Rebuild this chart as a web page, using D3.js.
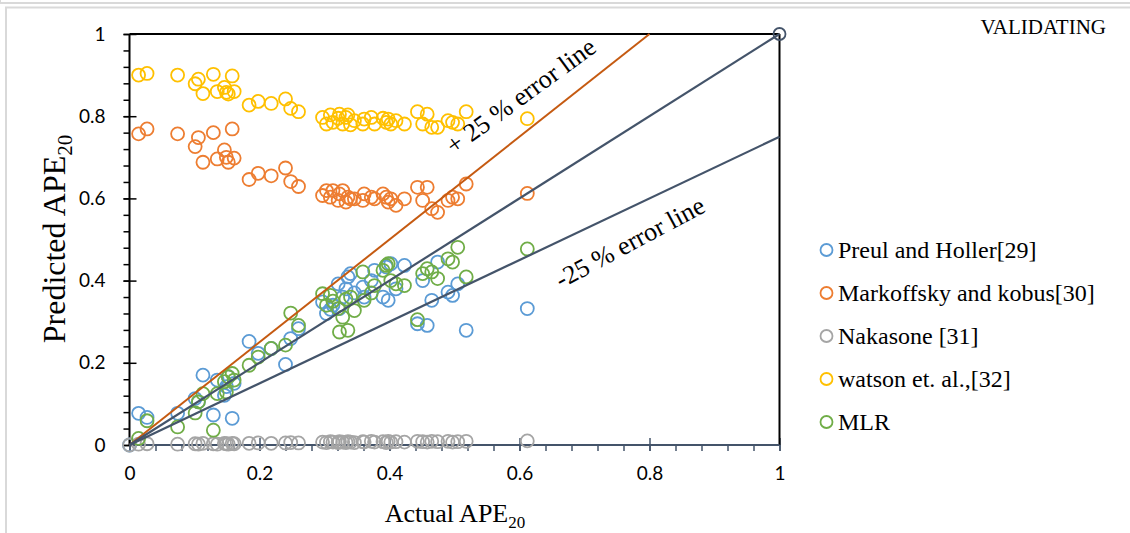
<!DOCTYPE html>
<html><head><meta charset="utf-8">
<script src="https://cdn.jsdelivr.net/npm/d3@7"></script>
<style>html,body{margin:0;padding:0;background:#fff;}svg{display:block;}</style>
</head><body>
<svg id="chart" width="1130" height="533"></svg>
<script>
// ---------------- DATA ----------------
const seriesNames = ["Preul and Holler[29]", "Markoffsky and kobus[30]", "Nakasone [31]", "watson et. al.,[32]", "MLR"];
const seriesColors = ["#5B9BD5", "#ED7D31", "#A5A5A5", "#FFC000", "#70AD47"];

const xActual = [0.000, 0.014, 0.027, 0.074, 0.101, 0.106, 0.113, 0.129, 0.135, 0.146,
  0.149, 0.152, 0.158, 0.161, 0.184, 0.198, 0.218, 0.240, 0.248, 0.260,
  0.297, 0.303, 0.309, 0.313, 0.321, 0.323, 0.328, 0.333, 0.336, 0.340,
  0.346, 0.359, 0.361, 0.372, 0.377, 0.390, 0.395, 0.398, 0.402, 0.410,
  0.423, 0.443, 0.451, 0.458, 0.465, 0.474, 0.490, 0.497, 0.505, 0.518,
  0.612];

const preul = [0, 0.077, 0.067, 0.077, 0.113, 0.105, 0.170, 0.073, 0.158, 0.121,
  0.142, 0.166, 0.065, 0.150, 0.252, 0.223, 0.235, 0.196, 0.259, 0.283,
  0.348, 0.320, 0.330, 0.340, 0.392, 0.332, 0.360, 0.380, 0.409, 0.417,
  0.370, 0.384, 0.360, 0.400, 0.425, 0.360, 0.433, 0.352, 0.441, 0.380,
  0.437, 0.295, 0.400, 0.291, 0.352, 0.445, 0.372, 0.364, 0.392, 0.279,
  0.332];

const markoffsky = [null, 0.757, 0.769, 0.757, 0.726, 0.748, 0.688, 0.760, 0.696, 0.718,
  0.700, 0.688, 0.769, 0.698, 0.646, 0.661, 0.655, 0.674, 0.641, 0.629,
  0.607, 0.619, 0.603, 0.619, 0.595, 0.611, 0.619, 0.591, 0.603, 0.599,
  0.599, 0.595, 0.611, 0.603, 0.599, 0.611, 0.603, 0.591, 0.599, 0.583,
  0.599, 0.627, 0.595, 0.627, 0.575, 0.566, 0.595, 0.603, 0.599, 0.635,
  0.612];

const nakasone = [0, 0.002, 0.003, 0.002, 0.003, 0.002, 0.004, 0.003, 0.002, 0.004,
  0.003, 0.002, 0.004, 0.003, 0.004, 0.005, 0.004, 0.005, 0.006, 0.005,
  0.007, 0.006, 0.008, 0.007, 0.006, 0.008, 0.007, 0.006, 0.008, 0.007,
  0.006, 0.008, 0.007, 0.009, 0.007, 0.008, 0.006, 0.009, 0.007, 0.008,
  0.007, 0.009, 0.008, 0.007, 0.009, 0.008, 0.009, 0.007, 0.008, 0.009,
  0.010];

const watson = [null, 0.900, 0.904, 0.900, 0.879, 0.890, 0.855, 0.902, 0.860, 0.870,
  0.858, 0.854, 0.898, 0.860, 0.827, 0.836, 0.831, 0.842, 0.819, 0.811,
  0.797, 0.781, 0.803, 0.785, 0.795, 0.805, 0.781, 0.797, 0.803, 0.779,
  0.789, 0.781, 0.793, 0.797, 0.781, 0.795, 0.785, 0.793, 0.781, 0.789,
  0.781, 0.811, 0.781, 0.805, 0.773, 0.773, 0.789, 0.785, 0.781, 0.811,
  0.794];

const mlr = [null, 0.016, 0.059, 0.044, 0.078, 0.105, 0.125, 0.036, 0.125, 0.154,
  0.129, 0.166, 0.174, 0.158, 0.194, 0.214, 0.235, 0.243, 0.321, 0.291,
  0.368, 0.340, 0.364, 0.350, 0.332, 0.275, 0.311, 0.355, 0.279, 0.360,
  0.327, 0.421, 0.352, 0.370, 0.388, 0.425, 0.437, 0.441, 0.400, 0.392,
  0.388, 0.305, 0.417, 0.429, 0.421, 0.405, 0.453, 0.445, 0.481, 0.409,
  0.477];

const xTickValues = [0, 0.2, 0.4, 0.6, 0.8, 1];
const xTickLabels = ["0", "0.2", "0.4", "0.6", "0.8", "1"];
const yTickValues = [0, 0.2, 0.4, 0.6, 0.8, 1];
const yTickLabels = ["0", "0.2", "0.4", "0.6", "0.8", "1"];

// reference lines: [x0,y0,x1,y1]
const idealLine = [0, 0, 1, 1];
const plusLine = [0, 0, 0.8, 1];
const minusLine = [0, 0, 1, 0.75];

// ---------------- DRAW ----------------
const svg = d3.select("#chart");
const x = d3.scaleLinear().domain([0, 1]).range([129.5, 779.5]);
const y = d3.scaleLinear().domain([0, 1]).range([445, 34]);

// outer frame
svg.append("rect").attr("x", 0).attr("y", -10).attr("width", 1140).attr("height", 13)
  .attr("fill", "none").attr("stroke", "#d9d9d9").attr("stroke-width", 2);
svg.append("rect").attr("x", 6).attr("y", 7.5).attr("width", 1140).attr("height", 600)
  .attr("fill", "none").attr("stroke", "#d9d9d9").attr("stroke-width", 2);

// minor ticks
const minorVals = d3.range(0, 1.0001, 0.04);
svg.append("g").attr("transform", `translate(${x(0)},0)`)
  .call(d3.axisLeft(y).tickValues(minorVals).tickSize(6).tickFormat(""))
  .call(g => { g.select(".domain").remove(); g.selectAll("line").attr("stroke", "#000").attr("stroke-width", 1.5); });
svg.append("g").attr("transform", `translate(0,${y(0)})`)
  .call(d3.axisBottom(x).tickValues(minorVals).tickSize(6).tickFormat(""))
  .call(g => { g.select(".domain").remove(); g.selectAll("line").attr("stroke", "#44546A").attr("stroke-width", 1.5); });

// major y axis
svg.append("g").attr("transform", `translate(${x(0)},0)`)
  .call(d3.axisLeft(y).tickValues(yTickValues).tickSize(6).tickPadding(18)
    .tickFormat((d, i) => yTickLabels[i]))
  .call(g => {
    g.select(".domain").remove();
    g.selectAll(".tick line").attr("x2", -6).attr("x1", 7).attr("stroke", "#000").attr("stroke-width", 1.5);
    g.selectAll("text").attr("font-family", "Lato, 'Open Sans', sans-serif").attr("font-size", 19).attr("fill", "#000");
  });
// major x axis
svg.append("g").attr("transform", `translate(0,${y(0)})`)
  .call(d3.axisBottom(x).tickValues(xTickValues).tickSize(6).tickPadding(16)
    .tickFormat((d, i) => xTickLabels[i]))
  .call(g => {
    g.select(".domain").remove();
    g.selectAll(".tick line").attr("y1", -7).attr("y2", 6).attr("stroke", "#44546A").attr("stroke-width", 1.5);
    g.selectAll("text").attr("font-family", "Lato, 'Open Sans', sans-serif").attr("font-size", 19).attr("fill", "#000");
  });

// plot frame lines
svg.append("line").attr("x1", x(0)).attr("x2", x(0)).attr("y1", y(1)).attr("y2", y(0)).attr("stroke", "#000").attr("stroke-width", 2);
svg.append("line").attr("x1", x(0)).attr("x2", x(1)).attr("y1", y(1)).attr("y2", y(1)).attr("stroke", "#000").attr("stroke-width", 2);
svg.append("line").attr("x1", x(1)).attr("x2", x(1)).attr("y1", y(1)).attr("y2", y(0)).attr("stroke", "#000").attr("stroke-width", 2);
svg.append("line").attr("x1", x(0)).attr("x2", x(1)).attr("y1", y(0)).attr("y2", y(0)).attr("stroke", "#44546A").attr("stroke-width", 2.2);

// points
const allSeries = [preul, markoffsky, nakasone, watson, mlr];
allSeries.forEach((vals, si) => {
  const pts = xActual.map((xv, i) => ({ x: xv, y: vals[i] })).filter(p => p.y !== null);
  svg.append("g").selectAll("circle").data(pts).join("circle")
    .attr("cx", d => x(d.x)).attr("cy", d => y(d.y)).attr("r", 6.5)
    .attr("fill", "none").attr("stroke", seriesColors[si]).attr("stroke-width", 1.8);
});

// reference lines
function refLine(l, color, w) {
  svg.append("line").attr("x1", x(l[0])).attr("y1", y(l[1])).attr("x2", x(l[2])).attr("y2", y(l[3]))
    .attr("stroke", color).attr("stroke-width", w);
}
refLine(plusLine, "#C55A11", 2);
refLine(idealLine, "#44546A", 2.2);
refLine(minusLine, "#44546A", 2.2);
svg.append("circle").attr("cx", x(1)).attr("cy", y(1)).attr("r", 6)
  .attr("fill", "none").attr("stroke", "#44546A").attr("stroke-width", 1.8);

// line labels
const serif = "'Liberation Serif', 'Times New Roman', serif";
svg.append("text").attr("transform", "translate(526,103) rotate(-36)")
  .attr("text-anchor", "middle").attr("font-family", serif).attr("font-size", 26).text("+ 25 % error line");
svg.append("text").attr("transform", "translate(634,250) rotate(-28)")
  .attr("text-anchor", "middle").attr("font-family", serif).attr("font-size", 26).text("-25 % error line");

// axis titles
const yt = svg.append("text").attr("transform", "translate(65,239) rotate(-90)")
  .attr("text-anchor", "middle").attr("font-family", serif).attr("font-size", 32);
yt.append("tspan").text("Predicted APE");
yt.append("tspan").attr("font-size", 21).attr("dy", 7).text("20");

const xt = svg.append("text").attr("x", 455).attr("y", 522)
  .attr("text-anchor", "middle").attr("font-family", serif).attr("font-size", 26);
xt.append("tspan").text("Actual APE");
xt.append("tspan").attr("font-size", 17).attr("dy", 6).text("20");

// title-ish label
svg.append("text").attr("x", 1106).attr("y", 34).attr("text-anchor", "end")
  .attr("font-family", serif).attr("font-size", 21).text("VALIDATING");

// legend
const legend = svg.append("g");
seriesNames.forEach((name, i) => {
  const cy = 250 + i * 43;
  legend.append("circle").attr("cx", 826.5).attr("cy", cy).attr("r", 6)
    .attr("fill", "none").attr("stroke", seriesColors[i]).attr("stroke-width", 1.8);
  legend.append("text").attr("x", 838).attr("y", cy + 8).attr("font-family", serif)
    .attr("font-size", 24).attr("fill", "#000").text(name);
});
</script>
</body></html>
